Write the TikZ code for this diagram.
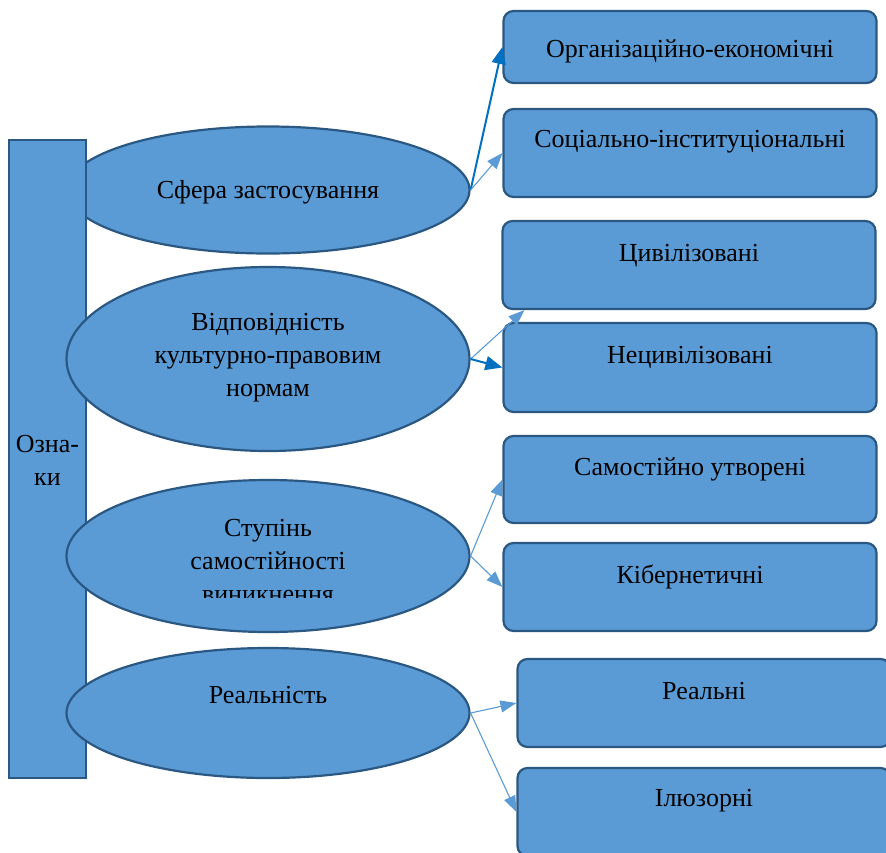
\documentclass[tikz,border=0pt]{standalone}
\usepackage{fontspec}
\setmainfont{Liberation Serif}
\usetikzlibrary{shapes.geometric,arrows.meta}
\definecolor{fillblue}{HTML}{5B9BD5}
\definecolor{edgeblue}{HTML}{2B5883}
\definecolor{darkarrow}{HTML}{0070C0}
\definecolor{lightarrow}{HTML}{5B9BD5}
\begin{document}
\begin{tikzpicture}[x=1pt,y=-1pt,
  txt/.style={font=\fontsize{26pt}{33pt}\selectfont, align=center, inner sep=0pt, anchor=base},
  ell/.style={ellipse, draw=edgeblue, fill=fillblue, line width=2.2pt, inner sep=0pt, minimum width=403pt},
  bar/.style={rectangle, draw=edgeblue, fill=fillblue, line width=2.2pt, inner sep=0pt},
  cat/.style={rectangle, rounded corners=10pt, draw=edgeblue, fill=fillblue, line width=2.2pt, inner sep=0pt, minimum width=373pt},
  thinarr/.style={draw=lightarrow, line width=1.1pt, -{Triangle[length=16pt,width=12pt]}},
  darkarr/.style={draw=darkarrow, line width=2pt, -{Triangle[length=17pt,width=14pt]}}
]
\useasboundingbox (0,0) rectangle (886,852);
% first ellipse (behind the bar)
\node[ell, minimum height=127pt] (e1) at (268,190) {};
% left bar
\node[bar, minimum width=77pt, minimum height=638pt] (sidebar) at (47.5,459) {};
\node[txt] (bartext) at (47.5,485) {Озна-\\ки};
% other ellipses
\node[ell, minimum height=184pt] (e2) at (268,359) {};
\node[ell, minimum height=152pt] (e3) at (268,556) {};
\node[ell, minimum height=130pt] (e4) at (268,713) {};
% ellipse texts
\node[txt] (t1) at (268,198) {Сфера застосування};
\node[txt] (t2) at (268,396) {Відповідність\\культурно-правовим\\нормам};
\begin{scope}
  \clip (60,470) rectangle (480,597);
  \node[txt] (t3) at (268,602) {Ступінь\\самостійності\\виникнення};
\end{scope}
\node[txt] (t4) at (268,703) {Реальність};
% boxes
\node[cat, minimum height=72pt] (b1) at (690,47) {};
\node[cat, minimum height=88pt] (b2) at (690,153) {};
\node[cat, minimum height=88pt] (b3) at (689,265) {};
\node[cat, minimum height=89pt] (b4) at (690,367.5) {};
\node[cat, minimum height=87pt] (b5) at (690,479.5) {};
\node[cat, minimum height=88pt] (b6) at (690,587) {};
\node[cat, minimum height=88pt] (b7) at (704,703) {};
\node[cat, minimum height=88pt] (b8) at (704,812) {};
% box texts
\node[txt] (s1) at (690,57) {Організаційно-економічні};
\node[txt] (s2) at (690,147) {Соціально-інституціональні};
\node[txt] (s3) at (689,261) {Цивілізовані};
\node[txt] (s4) at (690,363) {Нецивілізовані};
\node[txt] (s5) at (690,475) {Самостійно утворені};
\node[txt] (s6) at (690,583) {Кібернетичні};
\node[txt] (s7) at (704,699) {Реальні};
\node[txt] (s8) at (704,806) {Ілюзорні};
% arrows
\draw[darkarr] (e1.east) -- (b1.west);
\draw[thinarr] (e1.east) -- (b2.west);
\draw[thinarr] (e2.east) -- ([xshift=23pt]b3.south west);
\draw[darkarr] (e2.east) -- (b4.west);
\draw[thinarr] (e3.east) -- (b5.west);
\draw[thinarr] (e3.east) -- (b6.west);
\draw[thinarr] (e4.east) -- (b7.west);
\draw[thinarr] (e4.east) -- (b8.west);
\end{tikzpicture}
\end{document}
